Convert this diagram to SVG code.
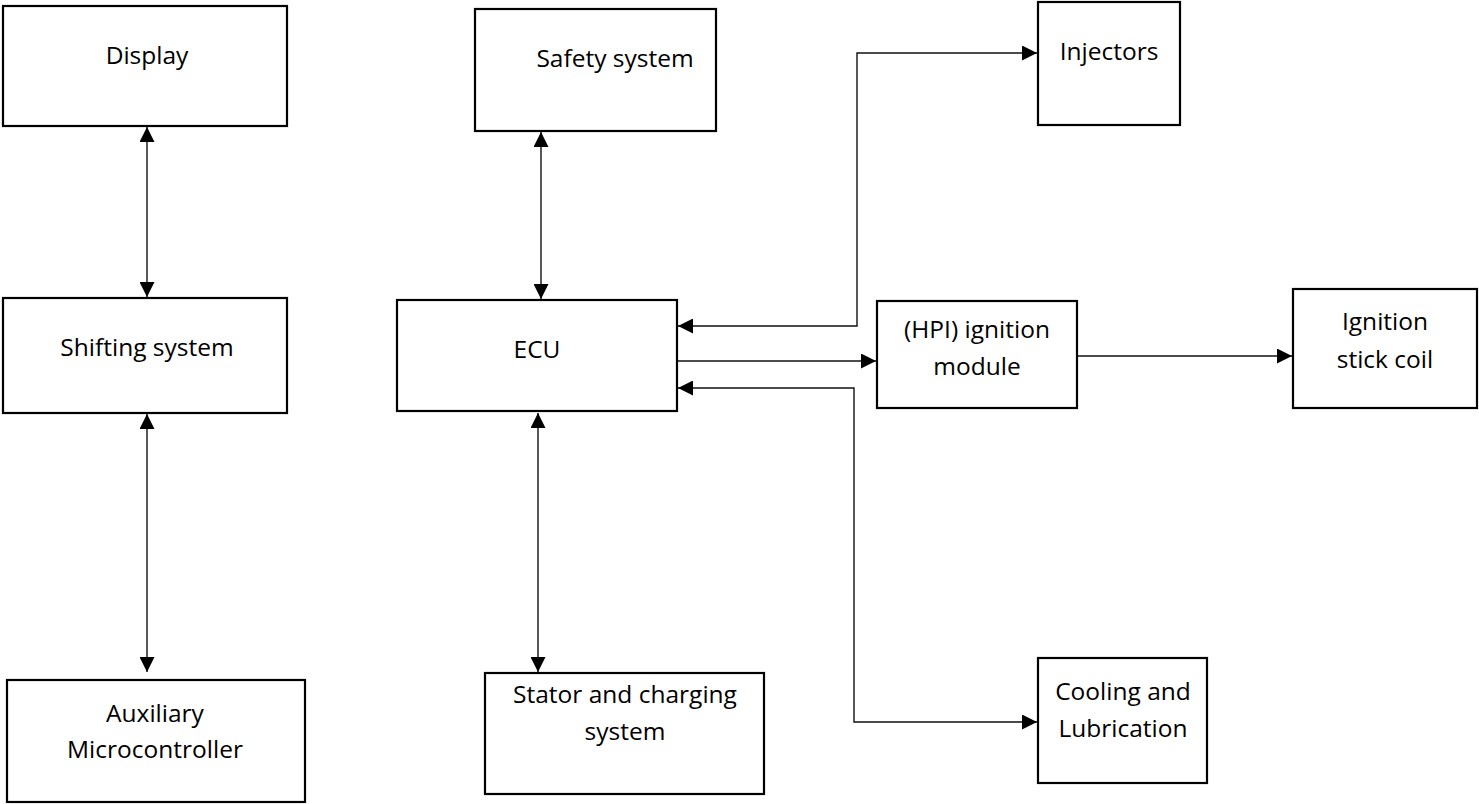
<svg xmlns="http://www.w3.org/2000/svg" width="1479" height="804" viewBox="0 0 1479 804">
<style>
.box{fill:#fff;stroke:#000;stroke-width:2.2}
.lbl{font-family:"Open Sans","Liberation Sans",sans-serif;font-size:24.5px;fill:#000;text-anchor:middle}
.c{fill:none;stroke:#111;stroke-width:1.4}
</style>
<defs>
<marker id="ah" viewBox="0 0 15 15" refX="15" refY="7.5" markerWidth="15" markerHeight="15" markerUnits="userSpaceOnUse" orient="auto-start-reverse">
<path d="M0,0 L15,7.5 L0,15 Z" fill="#000"/>
</marker>
</defs>
<rect width="1479" height="804" fill="#fff"/>
<g id="connectors">
<line class="c" x1="147" y1="127" x2="147" y2="297" marker-start="url(#ah)" marker-end="url(#ah)"/>
<line class="c" x1="147" y1="414" x2="147" y2="672" marker-start="url(#ah)" marker-end="url(#ah)"/>
<line class="c" x1="541" y1="132" x2="541" y2="299" marker-start="url(#ah)" marker-end="url(#ah)"/>
<line class="c" x1="538" y1="413" x2="538" y2="672" marker-start="url(#ah)" marker-end="url(#ah)"/>
<polyline class="c" points="1037,53 857,53 857,326 678,326" marker-start="url(#ah)" marker-end="url(#ah)"/>
<line class="c" x1="678" y1="361" x2="876" y2="361" marker-end="url(#ah)"/>
<polyline class="c" points="678,388 854,388 854,722 1037,722" marker-start="url(#ah)" marker-end="url(#ah)"/>
<line class="c" x1="1078" y1="356" x2="1292" y2="356" marker-end="url(#ah)"/>
</g>
<g id="display">
<rect class="box" x="3" y="6" width="284" height="120"/>
<text class="lbl" x="147" y="64">Display</text>
</g>
<g id="shifting">
<rect class="box" x="3" y="298" width="284" height="115"/>
<text class="lbl" x="147" y="356">Shifting system</text>
</g>
<g id="auxiliary">
<rect class="box" x="7" y="680" width="298" height="122"/>
<text class="lbl" x="155" y="722">Auxiliary</text>
<text class="lbl" x="155" y="758">Microcontroller</text>
</g>
<g id="safety">
<rect class="box" x="475" y="9" width="241" height="122"/>
<text class="lbl" x="615" y="67">Safety system</text>
</g>
<g id="ecu">
<rect class="box" x="397" y="300" width="280" height="111"/>
<text class="lbl" x="537" y="358">ECU</text>
</g>
<g id="stator">
<rect class="box" x="485" y="673" width="279" height="121"/>
<text class="lbl" x="625" y="703">Stator and charging</text>
<text class="lbl" x="625" y="740">system</text>
</g>
<g id="injectors">
<rect class="box" x="1038" y="2" width="142" height="123"/>
<text class="lbl" x="1109" y="60">Injectors</text>
</g>
<g id="hpi">
<rect class="box" x="877" y="301" width="200" height="107"/>
<text class="lbl" x="977" y="338">(HPI) ignition</text>
<text class="lbl" x="977" y="375">module</text>
</g>
<g id="coil">
<rect class="box" x="1293" y="289" width="184" height="119"/>
<text class="lbl" x="1385" y="330">Ignition</text>
<text class="lbl" x="1385" y="368">stick coil</text>
</g>
<g id="cooling">
<rect class="box" x="1038" y="658" width="169" height="125"/>
<text class="lbl" x="1123" y="700">Cooling and</text>
<text class="lbl" x="1123" y="737">Lubrication</text>
</g>
</svg>
